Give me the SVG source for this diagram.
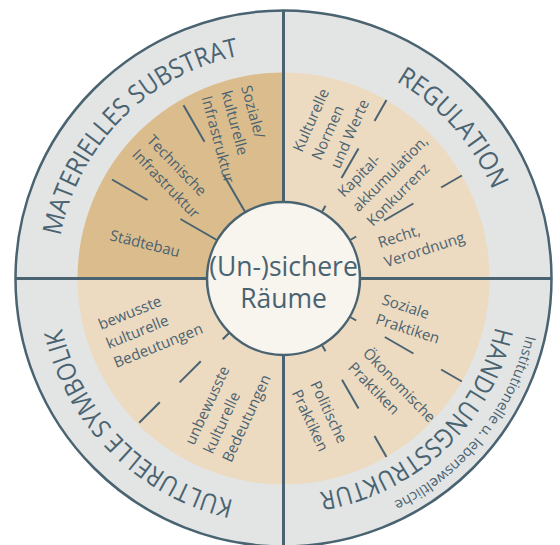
<svg xmlns="http://www.w3.org/2000/svg" width="560" height="545" viewBox="0 0 560 545">
<style>
.lbl{font-family:"Open Sans","Noto Sans",sans-serif;font-size:15px;fill:#4a6371}
.ring{font-family:"Open Sans","Noto Sans",sans-serif;font-size:26px;fill:#4a6371}
.small{font-family:"Open Sans","Noto Sans",sans-serif;font-size:14.5px;fill:#4a6371}
.ctr{font-family:"Open Sans","Noto Sans",sans-serif;font-size:26.5px;fill:#4a6371}
.sep{stroke:#4a6371;stroke-width:2;fill:none}
.div{stroke:#4a6371;stroke-width:3;fill:none}
</style>
<defs>
<path id="pMat" d="M64.5,338.2 A227,227 0 0 1 341.3,59.0"/>
<path id="pReg" d="M237.9,56.1 A227,227 0 0 1 498.9,350.1"/>
<path id="pKul" d="M342.3,497.8 A227,227 0 0 1 64.2,219.7"/>
<path id="pHan" d="M494.7,228.6 A216,216 0 0 1 221.4,485.4"/>
<path id="pIns" d="M515.2,187.2 A249,249 0 0 1 246.7,524.8"/>
</defs>
<g id="background">
<circle cx="283.5" cy="278.5" r="268" fill="#e3e5e5" stroke="#4a6371" stroke-width="2.5"/>
<circle cx="283.5" cy="278.5" r="206" fill="#ecdac1"/>
<path d="M283.5,278.5 L77.5,278.5 A206,206 0 0 1 283.5,72.5 Z" fill="#dbbc8d"/>
<line class="div" x1="283.5" y1="10" x2="283.5" y2="547"/>
<line class="div" x1="15" y1="278.5" x2="552" y2="278.5"/>
</g>
<g id="connectors">
<line class="sep" x1="216.8" y1="240.0" x2="180.4" y2="219.0"/>
<line class="sep" x1="147.5" y1="200.0" x2="112.0" y2="179.5"/>
<line class="sep" x1="245.0" y1="211.8" x2="224.0" y2="175.4"/>
<line class="sep" x1="204.5" y1="141.7" x2="183.5" y2="105.3"/>
<line class="sep" x1="321.5" y1="212.7" x2="325.5" y2="205.8"/>
<line class="sep" x1="341.5" y1="178.0" x2="358.5" y2="148.6"/>
<line class="sep" x1="374.5" y1="120.9" x2="386.5" y2="100.1"/>
<line class="sep" x1="349.3" y1="240.5" x2="356.2" y2="236.5"/>
<line class="sep" x1="384.0" y1="220.5" x2="413.4" y2="203.5"/>
<line class="sep" x1="441.1" y1="187.5" x2="461.9" y2="175.5"/>
<line class="sep" x1="349.3" y1="316.5" x2="356.2" y2="320.5"/>
<line class="sep" x1="384.8" y1="337.0" x2="413.4" y2="353.5"/>
<line class="sep" x1="441.1" y1="369.5" x2="461.9" y2="381.5"/>
<line class="sep" x1="321.5" y1="344.3" x2="325.5" y2="351.2"/>
<line class="sep" x1="342.0" y1="379.8" x2="358.5" y2="408.4"/>
<line class="sep" x1="374.5" y1="436.1" x2="386.5" y2="456.9"/>
<line class="sep" x1="229.8" y1="332.2" x2="222.7" y2="339.3"/>
<line class="sep" x1="200.8" y1="361.2" x2="179.6" y2="382.4"/>
<line class="sep" x1="159.8" y1="402.2" x2="139.2" y2="422.8"/>
</g>
<g id="center">
<circle cx="283.5" cy="278.5" r="76.5" fill="#f8f4ee" stroke="#4a6371" stroke-width="2.5"/>
<text class="ctr" text-anchor="middle" x="283.5" y="276">(Un-)sichere</text>
<text class="ctr" text-anchor="middle" x="283.5" y="308">Räume</text>
</g>
<g id="materielles-substrat">
<text class="ring"><textPath href="#pMat" startOffset="50%" text-anchor="middle" textLength="269" lengthAdjust="spacingAndGlyphs">MATERIELLES SUBSTRAT</textPath></text>
</g>
<g id="regulation">
<text class="ring"><textPath href="#pReg" startOffset="50%" text-anchor="middle" textLength="148" lengthAdjust="spacingAndGlyphs">REGULATION</textPath></text>
</g>
<g id="kulturelle-symbolik">
<text class="ring"><textPath href="#pKul" startOffset="50%" text-anchor="middle" textLength="256" lengthAdjust="spacingAndGlyphs">KULTURELLE SYMBOLIK</textPath></text>
</g>
<g id="handlungsstruktur">
<text class="ring"><textPath href="#pHan" startOffset="50%" text-anchor="middle" textLength="256" lengthAdjust="spacingAndGlyphs">HANDLUNGSSTRUKTUR</textPath></text>
<text class="small"><textPath href="#pIns" startOffset="50%" text-anchor="middle" textLength="220" lengthAdjust="spacingAndGlyphs">Institutionelle u. lebensweltliche</textPath></text>
</g>
<g id="staedtebau"><text class="lbl" transform="translate(109,240) rotate(14)">Städtebau</text></g>
<g id="technische-infrastruktur"><text class="lbl" transform="translate(146,141) rotate(46)"><tspan x="0" y="0">Technische</tspan><tspan x="0" dy="20.5">Infrastruktur</tspan></text></g>
<g id="soziale-infrastruktur"><text class="lbl" transform="translate(241,87) rotate(75)"><tspan x="0" y="0">Soziale/</tspan><tspan x="0" dy="20.5">kulturelle</tspan><tspan x="0" dy="20.5">Infrastruktur</tspan></text></g>
<g id="kulturelle-normen"><text class="lbl" transform="translate(302,153) rotate(-66)"><tspan x="0" y="0">Kulturelle</tspan><tspan x="0" dy="20.5">Normen</tspan><tspan x="0" dy="20.5">und Werte</tspan></text></g>
<g id="kapitalakkumulation"><text class="lbl" transform="translate(344,198) rotate(-45)"><tspan x="0" y="0">Kapital-</tspan><tspan x="0" dy="20.5">akkumulation,</tspan><tspan x="0" dy="20.5">Konkurrenz</tspan></text></g>
<g id="recht"><text class="lbl" transform="translate(380,248) rotate(-18)"><tspan x="0" y="0">Recht,</tspan><tspan x="0" dy="20.5">Verordnung</tspan></text></g>
<g id="bewusste"><text class="lbl" transform="translate(101,330) rotate(-22)"><tspan x="0" y="0">bewusste</tspan><tspan x="0" dy="20.5">kulturelle</tspan><tspan x="0" dy="20.5">Bedeutungen</tspan></text></g>
<g id="unbewusste"><text class="lbl" transform="translate(194,446) rotate(-65)"><tspan x="0" y="0">unbewusste</tspan><tspan x="0" dy="20.5">kulturelle</tspan><tspan x="0" dy="20.5">Bedeutungen</tspan></text></g>
<g id="soziale-praktiken"><text class="lbl" transform="translate(381,304) rotate(18)"><tspan x="0" y="0">Soziale</tspan><tspan x="0" dy="20.5">Praktiken</tspan></text></g>
<g id="oekonomische-praktiken"><text class="lbl" transform="translate(362,354) rotate(46)"><tspan x="0" y="0">Ökonomische</tspan><tspan x="0" dy="20.5">Praktiken</tspan></text></g>
<g id="politische-praktiken"><text class="lbl" transform="translate(310,384) rotate(65)"><tspan x="0" y="0">Politische</tspan><tspan x="0" dy="20.5">Praktiken</tspan></text></g>
</svg>
